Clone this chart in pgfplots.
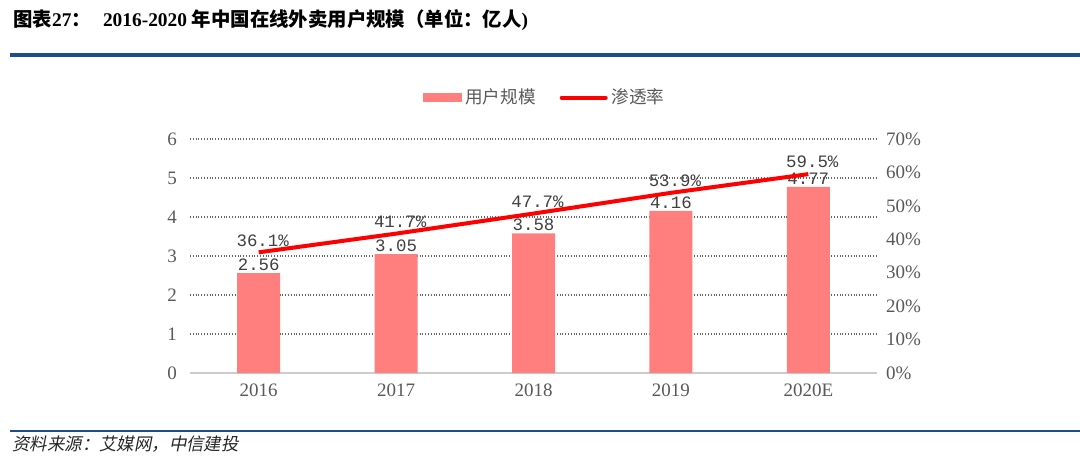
\documentclass[border=0pt]{standalone}
\usepackage{fontspec}
\usepackage{pgfplots}
\pgfplotsset{compat=1.18}
\setmainfont{Liberation Serif}
\newfontfamily\cjk{Noto Sans CJK SC}
\newfontfamily\cjkit[FakeSlant=0.2]{Noto Sans CJK SC}
\newfontfamily\mono{Liberation Mono}
\definecolor{barpink}{HTML}{FF7F7F}
\definecolor{titleblue}{HTML}{1B4F88}
\definecolor{ticktext}{HTML}{595959}
\definecolor{labeltext}{HTML}{404040}
\begin{document}
\begin{tikzpicture}[x=0.5pt,y=0.5pt]
\useasboundingbox (0,0) rectangle (1080,462);
% title
\node[anchor=west, inner sep=0pt, font=\fontsize{9.7}{11}\selectfont\bfseries] at (13,442)
  {{\cjk 图表}27{\cjk ：}\hspace{6pt}2016-2020 {\cjk 年中国在线外卖用户规模（单位：亿人}{)}};
\draw[titleblue, line width=1.6pt] (10,407) -- (1080,407);
\draw[titleblue, line width=1.3pt] (10,31) -- (1080,31);
\node[anchor=west, inner sep=0pt, font=\fontsize{8.7}{10}\selectfont, text=black!85] at (12,18)
  {\cjkit 资料来源：艾媒网，中信建投};

\begin{axis}[
  at={(95pt,44.5pt)}, anchor=south west,
  scale only axis, width=343.5pt, height=117pt,
  xmin=-0.5, xmax=4.5, ymin=0, ymax=6,
  xtick={0,1,2,3,4}, xticklabels={2016,2017,2018,2019,2020E},
  ytick={0,1,2,3,4,5,6},
  axis x line*=bottom, axis y line*=left,
  y axis line style={draw=none},
  x axis line style={draw=black!20, line width=0.8pt},
  major tick length=0pt,
  ymajorgrids, grid style={densely dotted, black!60, line width=0.6pt},
  tick label style={font=\fontsize{9.5}{10}\selectfont, text=ticktext},
  /pgf/number format/assume math mode=true,
  yticklabel style={xshift=-3pt},
  xticklabel style={yshift=-2pt},
  clip=false,
]
\addplot[ybar, bar width=21.5pt, fill=barpink, draw=none,
  nodes near coords, point meta=explicit symbolic,
  every node near coord/.append style={font=\mono\fontsize{8.7}{9}\selectfont, text=labeltext, anchor=south, inner sep=1pt}]
  coordinates {(0,2.56)[2.56] (1,3.05)[3.05] (2,3.58)[3.58] (3,4.16)[4.16] (4,4.77)[4.77]};
\end{axis}

\begin{axis}[
  at={(95pt,44.5pt)}, anchor=south west,
  scale only axis, width=343.5pt, height=117pt,
  xmin=-0.5, xmax=4.5, ymin=0, ymax=70,
  ytick={0,10,20,30,40,50,60,70},
  yticklabel={\pgfmathprintnumber{\tick}\%},
  axis x line=none, axis y line*=right,
  y axis line style={draw=none},
  major tick length=0pt,
  tick label style={font=\fontsize{9.5}{10}\selectfont, text=ticktext},
  /pgf/number format/assume math mode=true,
  yticklabel style={xshift=1pt},
  clip=false,
  legend style={at={(0.5,1)}, anchor=south, yshift=12pt, xshift=6pt, draw=none, fill=none,
    legend columns=2, font=\cjk\fontsize{8.8}{10}\selectfont, text=ticktext,
    /tikz/every even column/.append style={column sep=10pt}},
]
\addlegendimage{legend image code/.code={\fill[barpink] (0pt,-2pt) rectangle (19pt,2pt);}}
\addlegendentry{用户规模}
\addplot[red, line width=2pt, mark=none,
  legend image code/.code={\draw[red, line width=2pt, line cap=round] (0pt,0pt) -- (22pt,0pt);},
  nodes near coords, point meta=explicit symbolic,
  every node near coord/.append style={font=\mono\fontsize{8.7}{9}\selectfont, text=labeltext, anchor=south, inner sep=1pt, yshift=1pt, xshift=2pt}]
  coordinates {(0,36.1)[36.1\%] (1,41.7)[41.7\%] (2,47.7)[47.7\%] (3,53.9)[53.9\%] (4,59.5)[59.5\%]};
\addlegendentry{渗透率}
\end{axis}
\end{tikzpicture}
\end{document}
